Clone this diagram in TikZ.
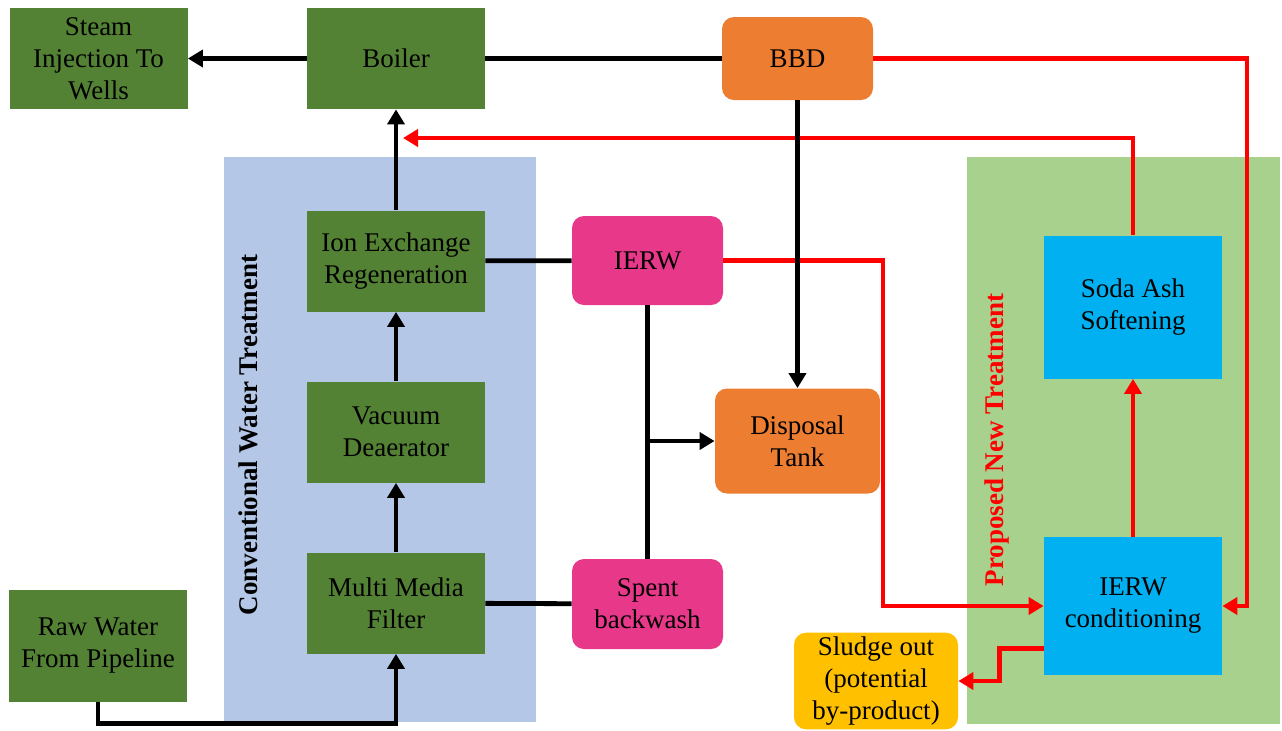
\documentclass[tikz,border=0pt]{standalone}
\usepackage{fontspec}
\setmainfont{Liberation Serif}
\usepackage{tikz}
\usetikzlibrary{positioning,arrows.meta,calc}
\definecolor{plant}    {HTML}{548235}
\definecolor{convbg}   {HTML}{B4C7E7}
\definecolor{propbg}   {HTML}{A9D18E}
\definecolor{tangerine}{HTML}{ED7D31}
\definecolor{rose}     {HTML}{E7388A}
\definecolor{sky}      {HTML}{00B0F0}
\definecolor{amber}    {HTML}{FFC000}
\definecolor{flow}     {HTML}{FF0000}
\tikzset{
  every node/.style={font=\fontsize{13.5}{16}\selectfont},
  % --- nodes
  unit/.style  = {align=center, inner sep=2pt, minimum width=89pt, minimum height=50.5pt},
  gbox/.style  = {unit, fill=plant},
  waste/.style = {unit, rounded corners=6pt, minimum width=75.5pt, minimum height=44.5pt},
  rbox/.style  = {waste, fill=rose},
  obox/.style  = {waste, fill=tangerine},
  nbox/.style  = {unit, fill=sky},
  side/.style  = {rotate=90, font=\fontsize{13.5}{16}\selectfont\bfseries},
  % --- edges
  e/.style     = {-{Triangle[length=7.5pt,width=8.5pt]}, line width=2.4pt, draw=black},
  eline/.style = {line width=2.4pt, draw=black},
  er/.style    = {e, draw=flow},
}
\begin{document}
\begin{tikzpicture}[x=0.5pt,y=-0.5pt]
  \useasboundingbox (0,0) rectangle (1282,730);
  % treatment areas
  \fill[convbg] (224,157) rectangle (536,722);
  \fill[propbg] (967,157) rectangle (1280,724);
  \node[side] (convlbl) at (248,435) {Conventional Water Treatment};
  \node[side, text=flow] (proplbl) at (997,440) {Proposed New Treatment};

  % blocks
  \node[gbox] (steam)  at (98.5,58.5) {Steam\\Injection To\\Wells};
  \node[gbox] (boiler) at (396,58.5) {Boiler};
  \node[obox, minimum height=41.5pt] (bbd) at (797.5,58.5) {BBD};
  \node[gbox] (ion)    at (396,261) {Ion Exchange\\Regeneration};
  \node[gbox] (vac)    at (396,432) {Vacuum\\Deaerator};
  \node[gbox] (mmf)    at (396,603) {Multi Media\\Filter};
  \node[gbox, minimum height=56pt] (raw) at (98,646) {Raw Water\\From Pipeline};
  \node[rbox] (ierw)   at (647.5,260.5) {IERW};
  \node[rbox, minimum height=45pt] (spent) at (647.5,604) {Spent\\backwash};
  \node[obox, minimum width=82.5pt, minimum height=52.5pt] (disp) at (797.5,441) {Disposal\\Tank};
  \node[nbox, minimum height=71.5pt] (soda) at (1133,307) {Soda Ash\\Softening};
  \node[nbox, minimum height=69pt] (cond) at (1133,606) {IERW\\conditioning};
  \node[waste, fill=amber, minimum width=82pt, minimum height=47.5pt] (sludge) at (876,681)
    {Sludge out\\(potential\\by-product)};

  % red routes (new treatment)
  \coordinate (rtrack) at (1247,0);
  \coordinate (ltrack) at (883,0);
  \coordinate (rettip) at (403,138);
  \draw[er] (bbd.east) -| (rtrack |- cond.east) -- (cond.east);
  \draw[er] (ierw.east) -| (ltrack |- cond.west) -- (cond.west);
  \draw[er] (soda.north) |- (rettip);
  \draw[er] (cond) -- (soda);
  \draw[er] ([yshift=13.5pt]cond.south west) -- ++(-44,0) |- (sludge.east);

  % black routes (conventional)
  \draw[e] (boiler) -- (steam);
  \draw[eline] (boiler) -- (bbd);
  \draw[e] (bbd) -- (disp);
  \draw[e] (ion) -- (boiler);
  \draw[e] (vac) -- (ion);
  \draw[e] (mmf) -- (vac);
  \draw[e] (raw.south) -- ++(0,21) -| (mmf.south);
  \draw[eline] (ion) -- (ierw);
  \draw[eline] (mmf) -- (spent);
  \draw[eline] (ierw) -- (spent);
  \coordinate (junc) at (ierw.south |- disp.west);
  \draw[e] (junc) -- (disp.west);
\end{tikzpicture}
\end{document}
